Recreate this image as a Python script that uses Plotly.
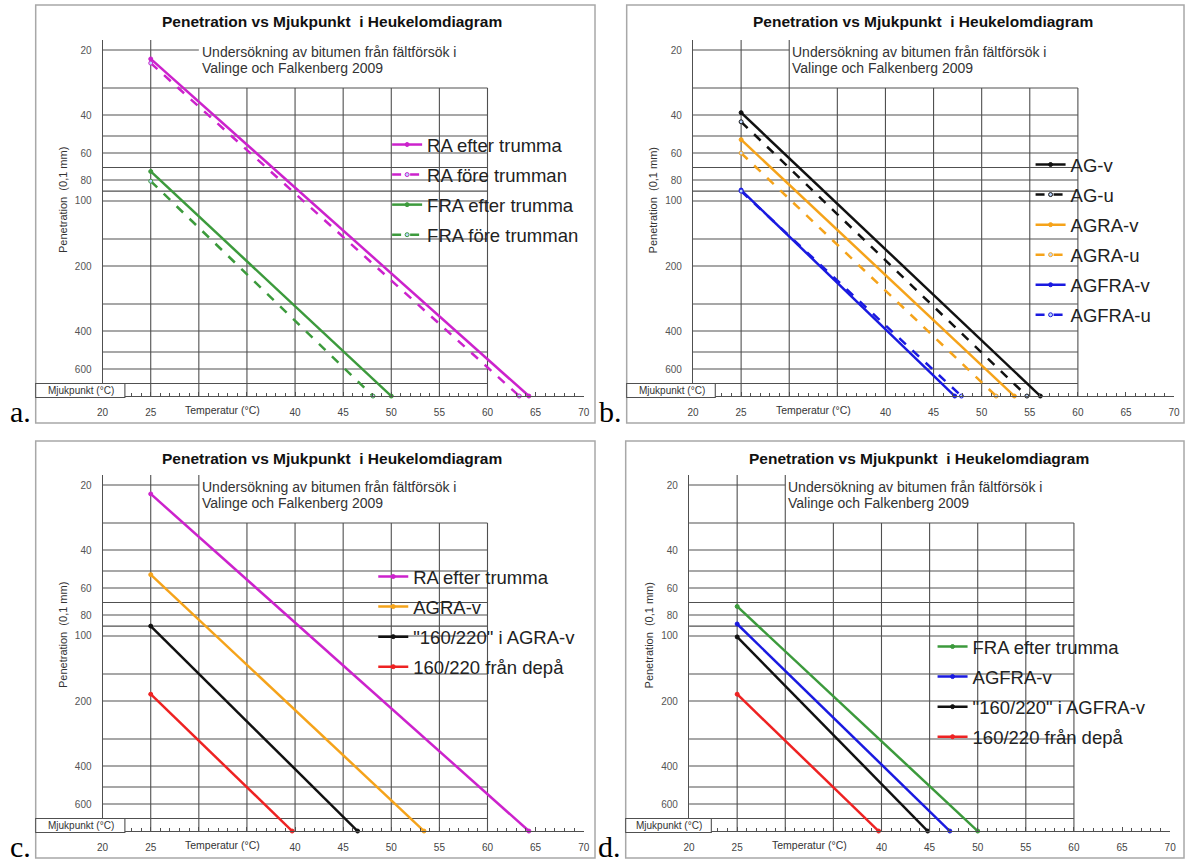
import math
import plotly.graph_objects as go

W, H = 1191, 864

# ---------------- data ----------------
T_TEST = 25          # test temperature for penetration (°C)
PEN_AT_SP = 800      # penetration at the softening point (Heukelom)

a_names = ["RA efter trumma", "RA före trumman", "FRA efter trumma", "FRA före trumman"]
a_pen25 = [22, 23, 73, 81]
a_soft = [64.3, 63.3, 50.0, 48.1]

b_names = ["AG-v", "AG-u", "AGRA-v", "AGRA-u", "AGFRA-v", "AGFRA-u"]
b_pen25 = [39, 43, 52, 60, 89, 90]
b_soft = [56.1, 54.7, 53.4, 51.5, 47.2, 47.9]

c_names = ["RA efter trumma", "AGRA-v", "\"160/220\" i AGRA-v", "160/220 från depå"]
c_pen25 = [22, 52, 90, 186]
c_soft = [64.3, 53.4, 46.5, 39.7]

d_names = ["FRA efter trumma", "AGFRA-v", "\"160/220\" i AGFRA-v", "160/220 från depå"]
d_pen25 = [73, 88, 101, 186]
d_soft = [50.0, 47.1, 44.8, 39.7]

y_tick_vals = [20, 40, 60, 80, 100, 200, 400, 600]
grid_pens = [20, 30, 40, 50, 60, 70, 80, 90, 100, 150, 200, 300, 400, 500, 600, 700]
x_tick_vals = [20, 25, 30, 35, 40, 45, 50, 55, 60, 65, 70]
x_tick_text = ["20", "25", "", "", "40", "45", "50", "55", "60", "65", "70"]
grid_temps = [25, 30, 35, 40, 45, 50, 55, 60]

# ---------------- styles ----------------
MAG, GRN, BLK, ORG, BLU, RED = "#CC22CC", "#3C9A3C", "#111111", "#F5A31A", "#1A1AE0", "#EE2222"
a_style = [(MAG, "solid"), (MAG, "dash"), (GRN, "solid"), (GRN, "dash")]
b_style = [(BLK, "solid"), (BLK, "dash"), (ORG, "solid"), (ORG, "dash"), (BLU, "solid"), (BLU, "dash")]
c_style = [(MAG, "solid"), (ORG, "solid"), (BLK, "solid"), (RED, "solid")]
d_style = [(GRN, "solid"), (BLU, "solid"), (BLK, "solid"), (RED, "solid")]

GRID = "#505050"
FRAME = "#a8a8a8"
PXDEC = 216.0
FONT = "Arial, Liberation Sans, sans-serif"

panels = [
    dict(frame=(30, 5, 595, 423), x20=97.6, x70=583.6, y20=50, lab="a.",
         box=(390, 126, 594, 248), leg=(427, 142), v30top=False,
         names=a_names, pen=a_pen25, soft=a_soft, style=a_style),
    dict(frame=(627, 5, 1190, 423), x20=694, x70=1180, y20=50, lab="b.",
         box=(1035, 152, 1189, 328), leg=(1077, 162), v30top=True,
         names=b_names, pen=b_pen25, soft=b_soft, style=b_style),
    dict(frame=(30, 441, 595, 858), x20=97.6, x70=583.6, y20=485, lab="c.",
         box=(372, 558, 594, 684), leg=(413, 574), v30top=True,
         names=c_names, pen=c_pen25, soft=c_soft, style=c_style),
    dict(frame=(626, 441, 1190, 858), x20=690, x70=1176, y20=485, lab="d.",
         box=(926, 630, 1189, 751), leg=(978, 644), v30top=True,
         names=d_names, pen=d_pen25, soft=d_soft, style=d_style),
]


def px(x):
    return x / W


def py(y):
    return 1 - y / H


def ann(x, y, text, size, color="#333", xa="center", ya="middle", **kw):
    d = dict(xref="paper", yref="paper", x=px(x), y=py(y), text=text, showarrow=False,
             xanchor=xa, yanchor=ya, font=dict(family=FONT, size=size, color=color))
    d.update(kw)
    return d


fig = go.Figure()
shapes = []
annotations = []
layout_axes = {}

for i, p in enumerate(panels):
    n = i + 1
    xs = "" if n == 1 else str(n)
    xa, ya = "x" + xs, "y" + xs
    leg = "legend" if n == 1 else "legend" + str(n)
    y_top = p["y20"] - 10
    y800 = p["y20"] + PXDEC * math.log10(PEN_AT_SP / 20)
    y700 = p["y20"] + PXDEC * math.log10(700 / 20)
    ytop_val = math.log10(20) - 10 / PXDEC
    ppd = (p["x70"] - p["x20"]) / 50.0  # px per °C

    layout_axes["xaxis" + xs] = dict(
        domain=[px(p["x20"]), px(p["x70"])], range=[20, 70], anchor=ya,
        tickmode="array", tickvals=x_tick_vals, ticktext=x_tick_text,
        ticks="inside", ticklen=4, tickcolor=GRID, tickwidth=1,
        minor=dict(dtick=1, tick0=20, ticks="inside", ticklen=3, tickcolor=GRID),
        showline=True, linecolor=GRID, linewidth=1.2, showgrid=False, zeroline=False,
        tickfont=dict(family=FONT, size=10, color="#444"),
        ticklabelstandoff=7, fixedrange=True)
    layout_axes["yaxis" + xs] = dict(
        domain=[py(y800), py(y_top)], type="log",
        range=[math.log10(PEN_AT_SP), ytop_val], anchor=xa,
        tickmode="array", tickvals=y_tick_vals, ticks="",
        showline=True, linecolor=GRID, linewidth=1.2, showgrid=False, zeroline=False,
        tickfont=dict(family=FONT, size=10, color="#555"),
        ticklabelstandoff=8, fixedrange=True)

    fl, ft, fr, fb = p["frame"]
    # frame
    shapes.append(dict(type="rect", xref="paper", yref="paper", x0=px(fl), x1=px(fr),
                       y0=py(fb), y1=py(ft), line=dict(color=FRAME, width=1.5),
                       fillcolor="white", layer="below"))
    # horizontal grid
    for g in grid_pens:
        x1 = 30 if g == 20 else 60
        shapes.append(dict(type="line", xref=xa, yref=ya, x0=20, x1=x1, y0=g, y1=g,
                           line=dict(color=GRID, width=1.1), layer="below"))
    # 700 line extends left to the frame
    shapes.append(dict(type="line", xref="paper", yref="paper", x0=px(fl), x1=px(p["x20"]),
                       y0=py(y700), y1=py(y700),
                       line=dict(color=GRID, width=1.1), layer="below"))
    # vertical grid
    for t in grid_temps:
        top = 30
        if t == 25 or (t == 30 and p["v30top"]):
            top = 10 ** ytop_val
        shapes.append(dict(type="line", xref=xa, yref=ya, x0=t, x1=t, y0=top, y1=PEN_AT_SP,
                           line=dict(color=GRID, width=1.1), layer="below"))
    # white legend box hiding grid
    bl, bt, br, bb = p["box"]
    shapes.append(dict(type="rect", xref="paper", yref="paper", x0=px(bl), x1=px(br),
                       y0=py(bb), y1=py(bt), line=dict(width=0), fillcolor="white",
                       layer="below"))
    # Mjukpunkt box
    x_box = p["x20"] + 22.5
    shapes.append(dict(type="rect", xref="paper", yref="paper", x0=px(fl), x1=px(x_box),
                       y0=py(y800 + 1.5), y1=py(y700),
                       line=dict(color=GRID, width=1.1), fillcolor="white", layer="above"))
    annotations.append(ann((fl + x_box) / 2 + 1, (y800 + y700) / 2 + 1, "Mjukpunkt (°C)", 10))
    # title
    annotations.append(ann(p["x20"] + 232, ft + 17,
                           "<b>Penetration vs Mjukpunkt  i Heukelomdiagram</b>", 15.5, "#111"))
    # subtitle (two lines)
    sx = p["x20"] + 10 * ppd + 1
    annotations.append(ann(sx, p["y20"] + 2, "Undersökning av bitumen från fältförsök i",
                           14, "#333", xa="left"))
    annotations.append(ann(sx, p["y20"] + 17.5, "Valinge och Falkenberg 2009",
                           14, "#333", xa="left"))
    # y title
    annotations.append(ann(p["x20"] - 40, p["y20"] + 150, "Penetration  (0,1 mm)", 11,
                           textangle=-90))
    # x title
    annotations.append(ann(p["x20"] + 12.5 * ppd, y800 + 14, "Temperatur (°C)", 10.5))
    # panel letter
    annotations.append(dict(xref="paper", yref="paper", x=px(fl - 3), y=py(fb + 7),
                            text=p["lab"], showarrow=False, xanchor="right", yanchor="bottom",
                            font=dict(family="Liberation Serif, Times New Roman, serif",
                                      size=30, color="#000")))

    # data traces
    for k, name in enumerate(p["names"]):
        col, dash = p["style"][k]
        fig.add_trace(go.Scatter(
            x=[T_TEST, p["soft"][k]], y=[p["pen"][k], PEN_AT_SP],
            mode="lines+markers", name=name, xaxis=xa, yaxis=ya, legend=leg,
            legendgroup=f"g{n}_{k}",
            line=dict(color=col, width=2.5, dash=dash),
            marker=dict(size=4, color=col if dash == "solid" else "#bcd6ff",
                        line=dict(color=col, width=1)),
            cliponaxis=False))

    lx, ly = p["leg"]
    layout_axes[leg] = dict(x=px(lx - 42), y=py(ly - 16), xanchor="left", yanchor="top",
                            bgcolor="rgba(0,0,0,0)", borderwidth=0, tracegroupgap=3,
                            itemwidth=30,
                            font=dict(family=FONT, size=18.5, color="#222"))

fig.update_layout(
    width=W, height=H, margin=dict(l=0, r=0, t=0, b=0),
    paper_bgcolor="white", plot_bgcolor="rgba(0,0,0,0)",
    showlegend=True, shapes=shapes, annotations=annotations, **layout_axes)

fig.write_html("out.html", config={"displayModeBar": False},
               post_script="document.body.style.margin='0px';")
